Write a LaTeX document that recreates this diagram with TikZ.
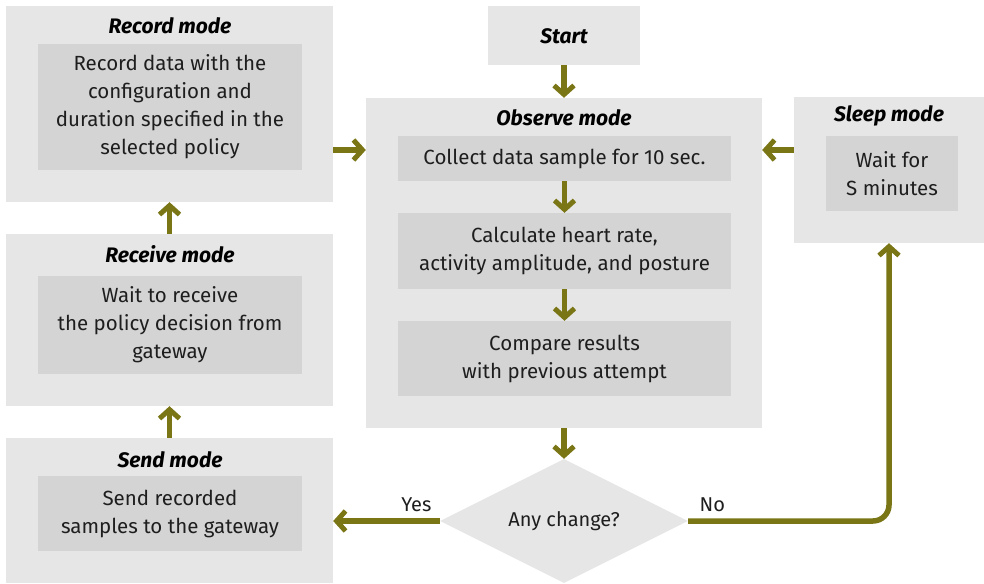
\documentclass[tikz,border=0pt]{standalone}
\usepackage{fontspec}
\setmainfont{Fira Sans}
\usetikzlibrary{arrows.meta,shapes.geometric}
\definecolor{panelbg}{RGB}{230,230,230}
\definecolor{taskbg}{RGB}{212,212,212}
\definecolor{flowolive}{RGB}{122,118,22}
\definecolor{inktext}{RGB}{30,30,30}
\begin{document}
\begin{tikzpicture}[x=1pt,y=-1pt,
  panel/.style={fill=panelbg, draw=none, inner sep=0pt},
  task/.style={fill=taskbg, draw=none, inner sep=0pt, align=center, text=inktext,
    font=\fontsize{20.5}{28}\selectfont},
  title/.style={inner sep=0pt, font=\fontsize{21}{24}\selectfont\bfseries\itshape, text=black},
  flow/.style={draw=flowolive, line width=5.5pt,
    -{Straight Barb[length=9pt,width=20pt,line width=5pt]}},
  answer/.style={inner sep=0pt, text=inktext, font=\fontsize{20}{24}\selectfont}]
\useasboundingbox (0,0) rectangle (984,583);

% Left column: record, receive, send
\node[panel, minimum width=327pt, minimum height=196pt] (record) at (169.5,104) {};
\node[title] (recordT) at (170,26) {Record mode};
\node[task, minimum width=264pt, minimum height=126pt] (recordI) at (170,107)
  {Record data with the\\configuration and\\duration specified in the\\selected policy};

\node[panel, minimum width=327pt, minimum height=172pt] (receive) at (169.5,320) {};
\node[title] (receiveT) at (170,254) {Receive mode};
\node[task, minimum width=264pt, minimum height=98pt] (receiveI) at (170,325)
  {Wait to receive\\the policy decision from\\gateway};

\node[panel, minimum width=327pt, minimum height=145pt] (send) at (169.5,510.5) {};
\node[title] (sendT) at (170,460) {Send mode};
\node[task, minimum width=264pt, minimum height=75pt] (sendI) at (170,513.5)
  {Send recorded\\samples to the gateway};

% Centre column: start, observe, decision
\node[panel, minimum width=152pt, minimum height=59pt] (start) at (564,35.5) {};
\node[title] (startT) at (564,36) {Start};

\node[panel, minimum width=396pt, minimum height=330pt] (observe) at (564,263) {};
\node[title] (observeT) at (564,118) {Observe mode};
\node[task, minimum width=333pt, minimum height=45pt] (collect) at (564.5,158.5)
  {Collect data sample for 10 sec.};
\node[task, minimum width=333pt, minimum height=76pt] (calc) at (564.5,251)
  {Calculate heart rate,\\activity amplitude, and posture};
\node[task, minimum width=333pt, minimum height=75pt] (compare) at (564.5,358.5)
  {Compare results\\with previous attempt};

\node[diamond, fill=panelbg, draw=none, inner sep=0pt, aspect=2,
  minimum width=248pt, minimum height=124pt, text=inktext,
  font=\fontsize{20}{24}\selectfont] (change) at (564,521) {Any change?};

% Right column: sleep
\node[panel, minimum width=190pt, minimum height=146pt] (sleep) at (889,170) {};
\node[title] (sleepT) at (889,116) {Sleep mode};
\node[task, minimum width=132pt, minimum height=75pt] (sleepI) at (892,173.5)
  {Wait for\\S minutes};

% Level of the two side entries into the observe panel
\coordinate (entry) at (0,150);

% Connectors
\draw[flow] (start.south) -- (observe.north);
\draw[flow] (collect.south) -- (calc.north);
\draw[flow] (calc.south) -- (compare.north);
\draw[flow] (observe.south) -- (change.north);
\draw[flow] (record.east |- entry) -- (observe.west |- entry);
\draw[flow] (sleep.west |- entry) -- (observe.east |- entry);
\draw[flow] (send.north) -- (receive.south);
\draw[flow] (receive.north) -- (record.south);
\draw[flow] (change.west) -- (send.east |- change.west)
  node[answer, pos=0.22, above=7pt] {Yes};
\draw[flow, rounded corners=16pt] (change.east) -- (sleep.south |- change.east)
  node[answer, pos=0.12, above=7pt] {No} -- (sleep.south);
\end{tikzpicture}
\end{document}
